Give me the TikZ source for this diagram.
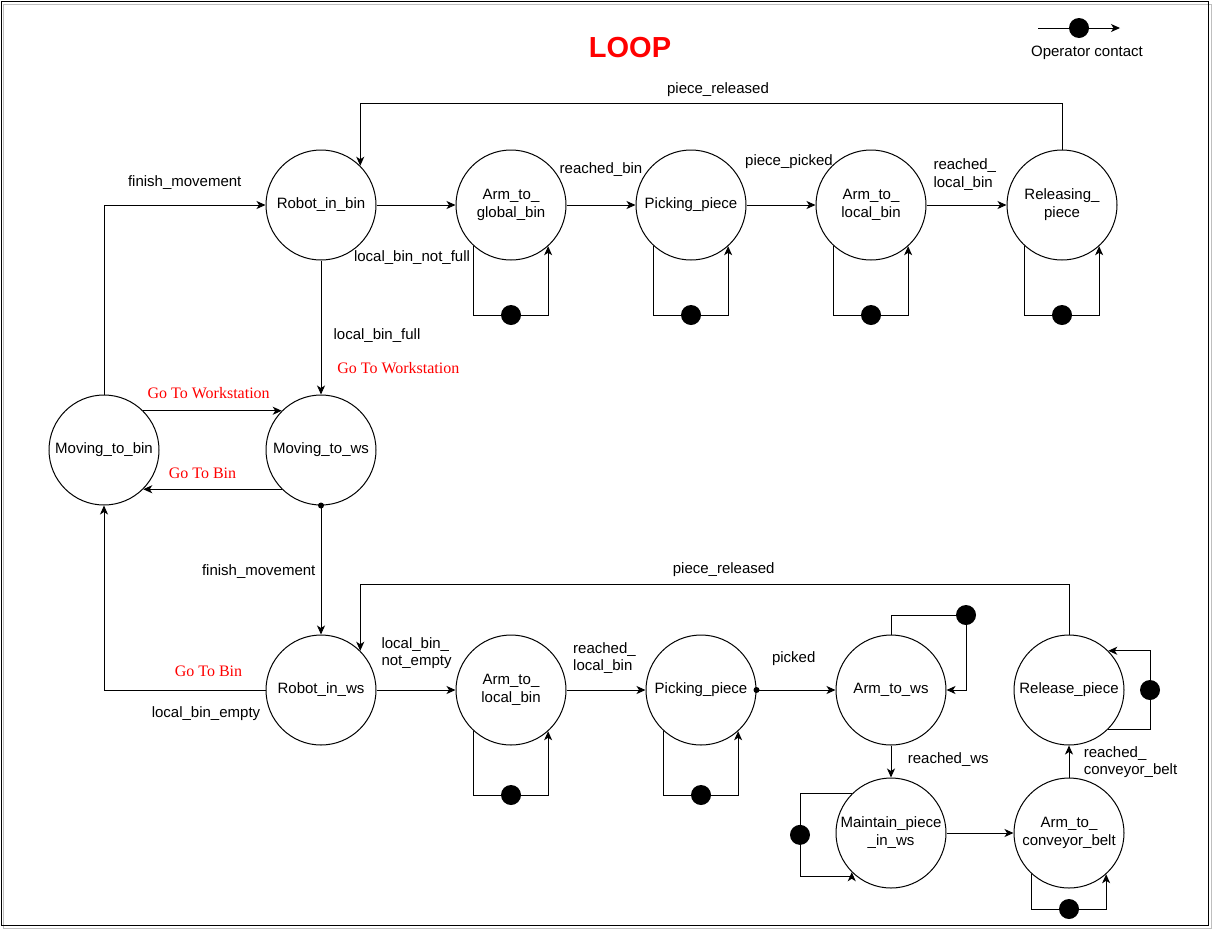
\documentclass[tikz,border=0pt]{standalone}
\usepackage{fontspec}
\setmainfont{Liberation Sans}
\newfontfamily\redfont{Liberation Serif}
\usepackage{tikz}
\usetikzlibrary{shapes.geometric, arrows.meta}

\begin{document}
\begin{tikzpicture}[x=1pt, y=-1pt, line width=1pt,
  state/.style={circle, draw, minimum size=110pt, inner sep=0pt, align=center, font=\fontsize{15}{18}\selectfont},
  lbl/.style={inner sep=0pt, text height=11pt, text depth=3pt, font=\fontsize{15}{17.6}\selectfont},
  twolbl/.style={inner sep=0pt, anchor=west, align=left, font=\fontsize{15}{17.6}\selectfont},
  redlbl/.style={inner sep=0pt, text=red, font=\redfont\fontsize{16}{19}\selectfont},
  opdot/.style={circle, fill, inner sep=0pt, minimum size=20pt},
  arr/.style={-{Stealth[length=9pt, width=8pt, inset=2.5pt]}}]

\useasboundingbox (0, 0) rectangle (1213, 930);
\draw[gray!50] (3, 4) rectangle (1211, 928);
\draw (1, 1) rectangle (1208, 925);

\node[font=\fontsize{29}{34}\selectfont\bfseries, text=red] (title) at (630, 47.5) {LOOP};

% legend
\coordinate (legA) at (1038, 28);
\coordinate (legB) at (1120, 28);
\draw[arr] (legA) -- node[opdot] {} (legB);
\node[lbl] (legtext) at (1087, 52) {Operator contact};

% states
\node[state] (robotbin) at (321, 205) {Robot\_in\_bin};
\node[state] (armglobal) at (511, 205) {Arm\_to\_\\global\_bin};
\node[state] (pick1) at (691, 205) {Picking\_piece};
\node[state] (armlocal1) at (871, 205) {Arm\_to\_\\local\_bin};
\node[state] (release1) at (1062, 205) {Releasing\_\\piece};

\node[state] (movebin) at (104, 450) {Moving\_to\_bin};
\node[state] (movews) at (321, 450) {Moving\_to\_ws};

\node[state] (robotws) at (321, 690) {Robot\_in\_ws};
\node[state] (armlocal2) at (511, 690) {Arm\_to\_\\local\_bin};
\node[state] (pick2) at (701, 690) {Picking\_piece};
\node[state] (armws) at (891, 690) {Arm\_to\_ws};
\node[state] (maintain) at (891, 833) {Maintain\_piece\\\_in\_ws};
\node[state] (armbelt) at (1069, 833) {Arm\_to\_\\conveyor\_belt};
\node[state] (release2) at (1069, 690) {Release\_piece};

% top row
\draw[arr] (movebin.north) |- (robotbin.west);
\draw[arr] (robotbin) -- (armglobal);
\draw[arr] (armglobal) -- (pick1);
\draw[arr] (pick1) -- (armlocal1);
\draw[arr] (armlocal1) -- (release1);
\draw[arr] (release1.north) -- ++(0, -46) -| (robotbin.north east);

\draw[arr] (armglobal.228) -- (armglobal.228 |- 0,315) -- node[opdot] {} (armglobal.312 |- 0,315) -- (armglobal.312);
\draw[arr] (pick1.228) -- (pick1.228 |- 0,315) -- node[opdot] {} (pick1.312 |- 0,315) -- (pick1.312);
\draw[arr] (armlocal1.228) -- (armlocal1.228 |- 0,315) -- node[opdot] {} (armlocal1.312 |- 0,315) -- (armlocal1.312);
\draw[arr] (release1.228) -- (release1.228 |- 0,315) -- node[opdot] {} (release1.312 |- 0,315) -- (release1.312);

\node[lbl] (finish1) at (184.7, 182.3) {finish\_movement};
\node[lbl] (notfull) at (412, 257.3) {local\_bin\_not\_full};
\node[lbl] (reachbin) at (601, 169.3) {reached\_bin};
\node[lbl] (picked1) at (789, 161.7) {piece\_picked};
\node[twolbl] (reachlocal1) at (933, 174.5) {reached\_\\local\_bin};
\node[lbl] (released1) at (718, 89) {piece\_released};

% middle
\draw[arr] (robotbin) -- (movews);
\draw[arr] (movebin.north east) -- (movews.north west);
\draw[arr] (movews.south west) -- (movebin.south east);
\draw[arr] (movews) -- (robotws);
\fill (movews.south) circle (3);
\draw[arr] (robotws.west) -| (movebin.south);

\node[lbl] (full) at (377, 335) {local\_bin\_full};
\node[redlbl] (gows1) at (398.3, 367.7) {Go To Workstation};
\node[redlbl] (gows2) at (208.7, 392.7) {Go To Workstation};
\node[redlbl] (gobin1) at (202.5, 473.3) {Go To Bin};
\node[lbl] (finish2) at (258.7, 571.7) {finish\_movement};
\node[redlbl] (gobin2) at (208.5, 671.7) {Go To Bin};
\node[lbl] (empty) at (206, 713.3) {local\_bin\_empty};

% bottom row
\draw[arr] (robotws) -- (armlocal2);
\draw[arr] (armlocal2) -- (pick2);
\draw[arr] (pick2) -- (armws);
\fill (pick2.east) circle (3);
\draw[arr] (armws) -- (maintain);
\draw[arr] (maintain) -- (armbelt);
\draw[arr] (armbelt) -- (release2);
\draw[arr] (release2.north) -- ++(0, -50) -| (robotws.north east);

\draw[arr] (armlocal2.228) -- (armlocal2.228 |- 0,795) -- node[opdot] {} (armlocal2.312 |- 0,795) -- (armlocal2.312);
\draw[arr] (pick2.228) -- (pick2.228 |- 0,795) -- node[opdot] {} (pick2.312 |- 0,795) -- (pick2.312);
\draw[arr] (armws.north) |- (966, 615) node[opdot] {} |- (armws.east);
\draw[arr] (maintain.north west) -- (maintain.north west -| 800,0) -- node[opdot] {} (800, 876) -| (maintain.south west);
\draw[arr] (armbelt.228) -- (armbelt.228 |- 0,909) -- node[opdot] {} (armbelt.312 |- 0,909) -- (armbelt.312);
\draw[arr] (release2.south east) -- (release2.south east -| 1150,0) -- node[opdot] {} (release2.north east -| 1150,0) -- (release2.north east);

\node[twolbl] (notempty) at (381, 653.3) {local\_bin\_\\not\_empty};
\node[twolbl] (reachlocal2) at (572.7, 658) {reached\_\\local\_bin};
\node[lbl] (picked2) at (793.7, 658.7) {picked};
\node[lbl] (released2) at (723.7, 569) {piece\_released};
\node[lbl] (reachws) at (948.3, 759) {reached\_ws};
\node[twolbl] (reachbelt) at (1083.3, 762) {reached\_\\conveyor\_belt};

\end{tikzpicture}
\end{document}
